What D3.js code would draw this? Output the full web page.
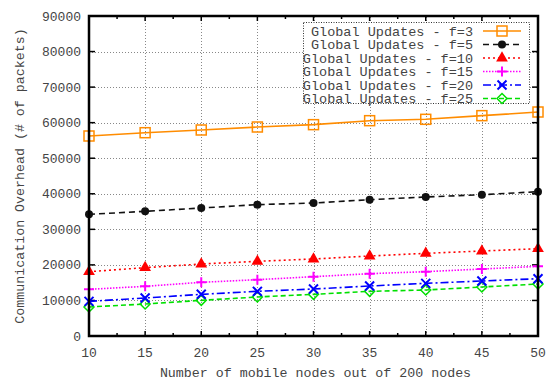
<!DOCTYPE html>
<html>
<head>
<meta charset="utf-8">
<script src="https://cdn.jsdelivr.net/npm/d3@7"></script>
<style>
  body { margin: 0; background: #fff; }
  text { font-family: "Liberation Mono", "DejaVu Sans Mono", monospace; fill: #444; }
</style>
</head>
<body>
<div id="chart"></div>
<script>
// data
const nodes = [10, 15, 20, 25, 30, 35, 40, 45, 50];
const f3  = [56250, 57180, 57940, 58780, 59440, 60560, 60940, 61970, 63000];
const f5  = [34220, 35060, 36000, 36940, 37410, 38340, 39090, 39740, 40590];
const f10 = [18090, 19220, 20250, 21000, 21660, 22500, 23250, 23900, 24560];
const f15 = [13130, 13970, 15100, 15840, 16690, 17530, 18090, 18840, 19590];
const f20 = [9750, 10690, 11720, 12560, 13220, 14060, 14810, 15470, 16120];
const f25 = [8160, 9000, 10030, 10970, 11720, 12560, 12940, 13780, 14620];
const yTicks = [0, 10000, 20000, 30000, 40000, 50000, 60000, 70000, 80000, 90000];

const series = [
  { name: "Global Updates - f=3",  values: f3,  color: "#ff8c00", dash: null,          marker: "square" },
  { name: "Global Updates - f=5",  values: f5,  color: "#111111", dash: "6,4",         marker: "circle" },
  { name: "Global Updates - f=10", values: f10, color: "#ff0000", dash: "2,3",         marker: "triangle" },
  { name: "Global Updates - f=15", values: f15, color: "#ff00ff", dash: "1.5,1.5",     marker: "plus" },
  { name: "Global Updates - f=20", values: f20, color: "#0000ff", dash: "8,3,2,3",     marker: "cross" },
  { name: "Global Updates - f=25", values: f25, color: "#00e000", dash: "5,3",         marker: "diamond" }
];

const width = 549, height = 380;
const margin = { top: 16, right: 11, bottom: 44, left: 89 };

const svg = d3.select("#chart").append("svg")
  .attr("width", width)
  .attr("height", height);

const x = d3.scaleLinear().domain([10, 50]).range([margin.left, width - margin.right]);
const y = d3.scaleLinear().domain([0, 90000]).range([height - margin.bottom, margin.top]);

// grid
const grid = svg.append("g").attr("stroke", "#888").attr("stroke-width", 1).attr("stroke-dasharray", "1,2");
grid.selectAll(".gx").data(nodes.slice(1, -1)).join("line")
  .attr("x1", d => Math.round(x(d)) + 0.5).attr("x2", d => Math.round(x(d)) + 0.5)
  .attr("y1", y(0)).attr("y2", y(90000));
grid.selectAll(".gy").data(yTicks.slice(1, -1)).join("line")
  .attr("y1", d => Math.round(y(d)) + 0.5).attr("y2", d => Math.round(y(d)) + 0.5)
  .attr("x1", x(10)).attr("x2", x(50));

// ticks on all four sides (inward)
const ticks = svg.append("g").attr("stroke", "#000").attr("stroke-width", 1.5);
const minorX = d3.range(12.5, 50, 5);
nodes.forEach(d => {
  ticks.append("line").attr("x1", x(d)).attr("x2", x(d)).attr("y1", y(0)).attr("y2", y(0) - 5);
  ticks.append("line").attr("x1", x(d)).attr("x2", x(d)).attr("y1", y(90000)).attr("y2", y(90000) + 5);
});
minorX.forEach(d => {
  ticks.append("line").attr("x1", x(d)).attr("x2", x(d)).attr("y1", y(0)).attr("y2", y(0) - 3);
  ticks.append("line").attr("x1", x(d)).attr("x2", x(d)).attr("y1", y(90000)).attr("y2", y(90000) + 3);
});
yTicks.forEach(d => {
  ticks.append("line").attr("x1", x(10)).attr("x2", x(10) + 6).attr("y1", y(d)).attr("y2", y(d));
  ticks.append("line").attr("x1", x(50)).attr("x2", x(50) - 6).attr("y1", y(d)).attr("y2", y(d));
});

// tick labels
svg.append("g").selectAll("text").data(yTicks).join("text")
  .attr("x", margin.left - 8)
  .attr("y", d => y(d))
  .attr("dy", "0.35em")
  .attr("text-anchor", "end")
  .style("font-size", "13px")
  .text(d => d);

svg.append("g").selectAll("text").data(nodes).join("text")
  .attr("x", d => x(d))
  .attr("y", y(0) + 16)
  .attr("dy", "0.35em")
  .attr("text-anchor", "middle")
  .style("font-size", "13px")
  .text(d => d);

// axis titles
svg.append("text")
  .attr("x", (x(10) + x(50)) / 2 + 2)
  .attr("y", 372)
  .attr("dy", "0.35em")
  .attr("text-anchor", "middle")
  .style("font-size", "13.3px")
  .text("Number of mobile nodes out of 200 nodes");

svg.append("text")
  .attr("transform", `translate(19,${(y(0) + y(90000)) / 2}) rotate(-90)`)
  .attr("dy", "0.35em")
  .attr("text-anchor", "middle")
  .style("font-size", "13.3px")
  .text("Communication Overhead (# of packets)");

function drawMarker(g, type, cx, cy, color) {
  if (type === "square") {
    g.append("rect").attr("x", cx - 5).attr("y", cy - 5).attr("width", 10).attr("height", 10)
      .attr("fill", "none").attr("stroke", color).attr("stroke-width", 1.5);
  } else if (type === "circle") {
    g.append("circle").attr("cx", cx).attr("cy", cy).attr("r", 4).attr("fill", color);
  } else if (type === "triangle") {
    g.append("path").attr("d", d3.symbol(d3.symbolTriangle, 60)()).attr("transform", `translate(${cx},${cy})`)
      .attr("fill", color);
  } else if (type === "plus") {
    g.append("path").attr("d", `M${cx - 5},${cy}H${cx + 5}M${cx},${cy - 5}V${cy + 5}`)
      .attr("stroke", color).attr("stroke-width", 2);
  } else if (type === "cross") {
    g.append("path").attr("d", `M${cx - 4.5},${cy - 4.5}L${cx + 4.5},${cy + 4.5}M${cx - 4.5},${cy + 4.5}L${cx + 4.5},${cy - 4.5}`)
      .attr("stroke", color).attr("stroke-width", 2);
  } else if (type === "diamond") {
    g.append("path").attr("d", `M${cx},${cy - 5}L${cx + 5},${cy}L${cx},${cy + 5}L${cx - 5},${cy}Z`)
      .attr("fill", "none").attr("stroke", color).attr("stroke-width", 1.5);
  }
}

// series, drawn back to front
const line = d3.line().x((d, i) => x(nodes[i])).y(d => y(d));
series.slice().reverse().forEach(s => {
  const g = svg.append("g");
  g.append("path").datum(s.values)
    .attr("d", line)
    .attr("fill", "none")
    .attr("stroke", s.color)
    .attr("stroke-width", 1.6)
    .attr("stroke-dasharray", s.dash);
  s.values.forEach((v, i) => drawMarker(g, s.marker, x(nodes[i]), y(v), s.color));
});

// legend
const legend = svg.append("g");
legend.append("rect")
  .attr("x", 303.5).attr("y", 22.5).attr("width", 226).attr("height", 81)
  .attr("fill", "#fff").attr("stroke", "#333").attr("stroke-width", 1).attr("stroke-dasharray", "1,1.5");
series.forEach((s, i) => {
  const ry = 31 + i * 13.5;
  legend.append("text")
    .attr("x", 473).attr("y", ry).attr("dy", "0.35em")
    .attr("text-anchor", "end")
    .style("font-size", "13.5px")
    .text(s.name);
  legend.append("line")
    .attr("x1", 483).attr("x2", 521).attr("y1", ry).attr("y2", ry)
    .attr("stroke", s.color).attr("stroke-width", 1.6).attr("stroke-dasharray", s.dash);
  drawMarker(legend, s.marker, 502, ry, s.color);
});

// frame
svg.append("rect")
  .attr("x", x(10)).attr("y", y(90000))
  .attr("width", x(50) - x(10)).attr("height", y(0) - y(90000))
  .attr("fill", "none").attr("stroke", "#000").attr("stroke-width", 2.5);
</script>
</body>
</html>
